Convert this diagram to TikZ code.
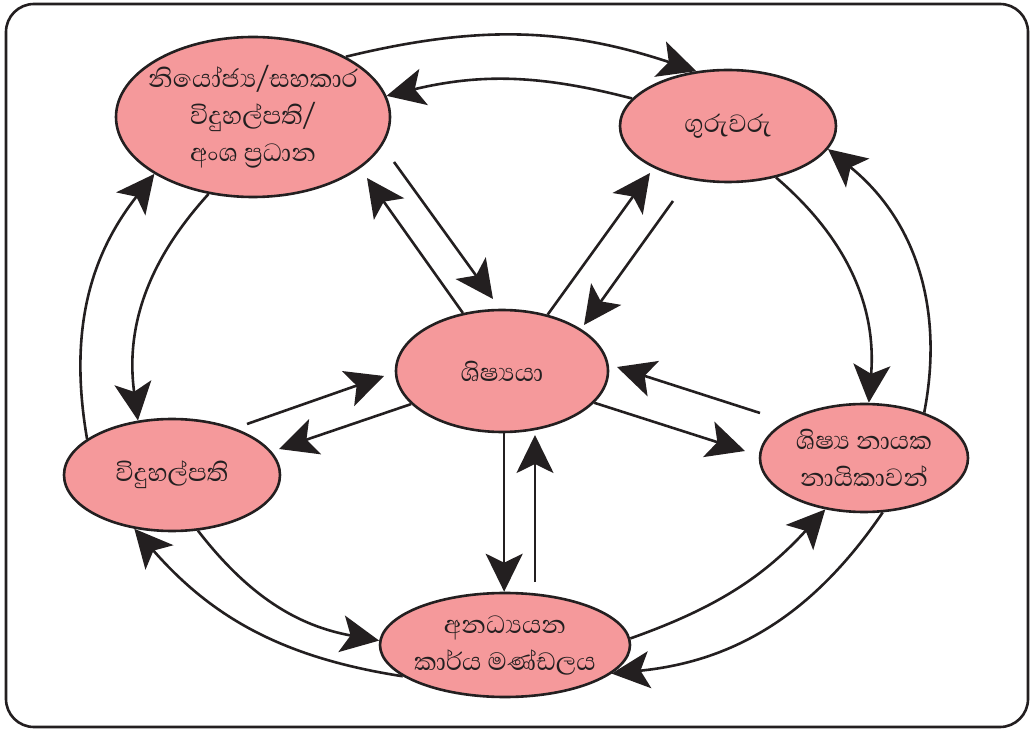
\documentclass[tikz,border=0pt]{standalone}
\usepackage{fontspec}
\newfontfamily\sinhala[Script=Sinhala]{Abhaya Libre}
\usetikzlibrary{arrows.meta,shapes.geometric}
\definecolor{rolepink}{RGB}{245,153,155}
\definecolor{inkgrey}{RGB}{35,31,32}

\begin{document}
\begin{tikzpicture}[x=1pt, y=1pt, line width=2.6pt, color=inkgrey,
  >={Stealth[length=38pt, width=37pt, inset=9pt]},
  role/.style={ellipse, draw, fill=rolepink, inner sep=-25pt, align=center,
    font=\sinhala\fontsize{32}{37}\selectfont}]
\useasboundingbox (0,0) rectangle (1031,729);
\draw [rounded corners=28pt] (6,2) rectangle (1028,725);

\node [role, minimum width=212pt, minimum height=122pt] (s_0) at (502,358) {ශිෂ්^^^^200dයයා};
\node [role, minimum width=274pt, minimum height=160pt] (s_1) at (253,612) {නියෝජ්^^^^200dය/සහකාර\\ විදුහල්පති/\\ අංශ ප්^^^^200dරධාන};
\node [role, minimum width=216pt, minimum height=112pt] (s_2) at (728,603) {ගුරුවරු};
\node [role, minimum width=216pt, minimum height=112pt] (s_3) at (172,254) {විදුහල්පති};
\node [role, minimum width=208pt, minimum height=108pt] (s_4) at (864,271) {ශිෂ්^^^^200dය නායක\\ නායිකාවන්};
\node [role, minimum width=250pt, minimum height=104pt] (s_5) at (505,84) {අනධ්^^^^200dයයන\\ කාර්ය මණ්ඩලය};

% free ends of the straight arrows
\coordinate (c_1) at (394,567);
\coordinate (c_2) at (493,430);
\coordinate (c_3) at (367,551);
\coordinate (c_4) at (650,556);
\coordinate (c_5) at (673,528);
\coordinate (c_6) at (584,404);
\coordinate (c_7) at (247,305);
\coordinate (c_8) at (384,353);
\coordinate (c_9) at (279,280);
\coordinate (c_10) at (745,278);
\coordinate (c_11) at (760,316);
\coordinate (c_12) at (617,362);
\coordinate (c_13) at (535,147);
\coordinate (c_14) at (535,294);

% outer ring
\path [->]
(s_1.33) edge [bend left=16] (s_2.120)
(s_2.164) edge [bend right=14] (s_1.9)
(s_1.240) edge [bend right=25] (s_3.122)
(s_3.157) edge [bend left=24] (s_1.210)
(s_2.-47) edge [bend left=27] (s_4.85)
(s_4.37) edge [bend right=31] (s_2.-13)
(s_3.-65) edge [bend right=21] (s_5.178)
(s_5.197) edge [bend left=20] (s_3.235)
(s_5.3) edge [bend right=14] (s_4.233)
(s_4.-71) edge [bend left=25] (s_5.-15);

% spokes
\path [->]
(c_1) edge (c_2)
(s_0.124) edge (c_3)
(s_0.51) edge (c_4)
(c_5) edge (c_6)
(c_7) edge (c_8)
(s_0.200) edge (c_9)
(s_0.-19) edge (c_10)
(c_11) edge (c_12)
(s_0.272) edge (s_0.272 |- s_5.north)
(c_13) edge (c_14);
\end{tikzpicture}
\end{document}
